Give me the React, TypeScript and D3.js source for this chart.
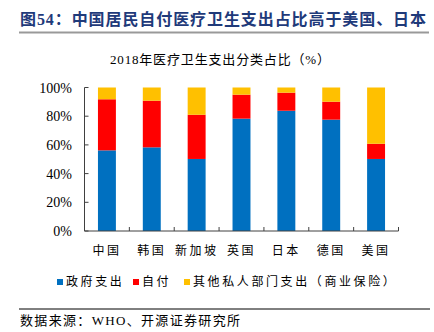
import React from "react";
import * as d3 from "d3";

const categories = ["中国", "韩国", "新加坡", "英国", "日本", "德国", "美国"];
const govSpend = [56.2, 58.3, 50.2, 78.3, 83.8, 77.6, 50.2];
const selfPay = [35.6, 32.5, 30.8, 16.7, 12.6, 12.5, 10.6];
const otherPrivate = [8.2, 9.2, 19.0, 5.0, 3.6, 9.9, 39.2];
const seriesNames = ["政府支出", "自付", "其他私人部门支出（商业保险）"];
const seriesColors = ["#0070C0", "#FF0000", "#FFC000"];
const yTicks = [0, 20, 40, 60, 80, 100];

const SERIF = "'Liberation Serif', 'Times New Roman', 'Noto Sans CJK SC', serif";

export default function App() {
  const W = 434, H = 332;
  const x0 = 84.5, x1 = 398.5, yTop = 87.5, yBot = 231;
  const x = d3.scaleBand<string>().domain(categories).range([x0, x1]).paddingInner(0.6).paddingOuter(0.3);
  const xb = d3.scaleBand<string>().domain(categories).range([x0, x1]);
  const y = d3.scaleLinear().domain([0, 100]).range([yBot, yTop]);

  const table = categories.map((c, i) => ({ cat: c, gov: govSpend[i], self: selfPay[i], other: otherPrivate[i] }));
  const stack = d3.stack<any>().keys(["gov", "self", "other"])(table);

  const legendX = [57, 133, 184];

  return (
    <svg width={W} height={H} style={{ position: "absolute", left: 0, top: 0, background: "#fff" }}>
      <text x={20} y={25} fontFamily={SERIF} fontSize={16} fontWeight="bold" fill="#1F3A7A" textLength={406} lengthAdjust="spacing">
        图54：中国居民自付医疗卫生支出占比高于美国、日本
      </text>
      <line x1={19} x2={429} y1={32.5} y2={32.5} stroke="#999" strokeWidth={2} />
      <text x={220} y={64} textAnchor="middle" fontFamily={SERIF} fontSize={13} fill="#000" textLength={220} lengthAdjust="spacing">
        2018年医疗卫生支出分类占比（%）
      </text>

      {stack.map((s, si) => (
        <g key={si} fill={seriesColors[si]}>
          {s.map((d, i) => (
            <rect key={i} x={x(categories[i])} width={x.bandwidth()} y={y(d[1])} height={y(d[0]) - y(d[1])} />
          ))}
        </g>
      ))}

      <line x1={x0} x2={x0} y1={yTop} y2={yBot} stroke="#404040" strokeWidth={1} />
      <line x1={x0} x2={x1} y1={yBot} y2={yBot} stroke="#404040" strokeWidth={1} />
      {yTicks.map((t) => (
        <g key={t}>
          <line x1={x0} x2={x0 + 4} y1={y(t)} y2={y(t)} stroke="#404040" />
          <text x={72} y={y(t) + 5} textAnchor="end" fontFamily={SERIF} fontSize={14} fill="#000">{t}%</text>
        </g>
      ))}
      {categories.map((c, i) => (
        <line key={"t" + i} x1={(xb(c) as number) + xb.bandwidth()} x2={(xb(c) as number) + xb.bandwidth()} y1={yBot} y2={yBot - 4} stroke="#404040" />
      ))}
      {categories.map((c) => (
        <text key={c} x={(xb(c) as number) + xb.bandwidth() / 2} y={255} textAnchor="middle" fontFamily={SERIF} fontSize={12} letterSpacing={2.5} fill="#000">{c}</text>
      ))}

      {seriesNames.map((n, i) => (
        <g key={n}>
          <rect x={legendX[i]} y={279} width={6} height={6} fill={seriesColors[i]} />
          <text x={legendX[i] + 9} y={286} fontFamily={SERIF} fontSize={12} letterSpacing={2.6} fill="#000">{n}</text>
        </g>
      ))}

      <line x1={19} x2={430} y1={309} y2={309} stroke="#000" strokeWidth={1} />
      <text x={20} y={325} fontFamily={SERIF} fontSize={13} fill="#000" textLength={220} lengthAdjust="spacing">数据来源：WHO、开源证券研究所</text>
    </svg>
  );
}
